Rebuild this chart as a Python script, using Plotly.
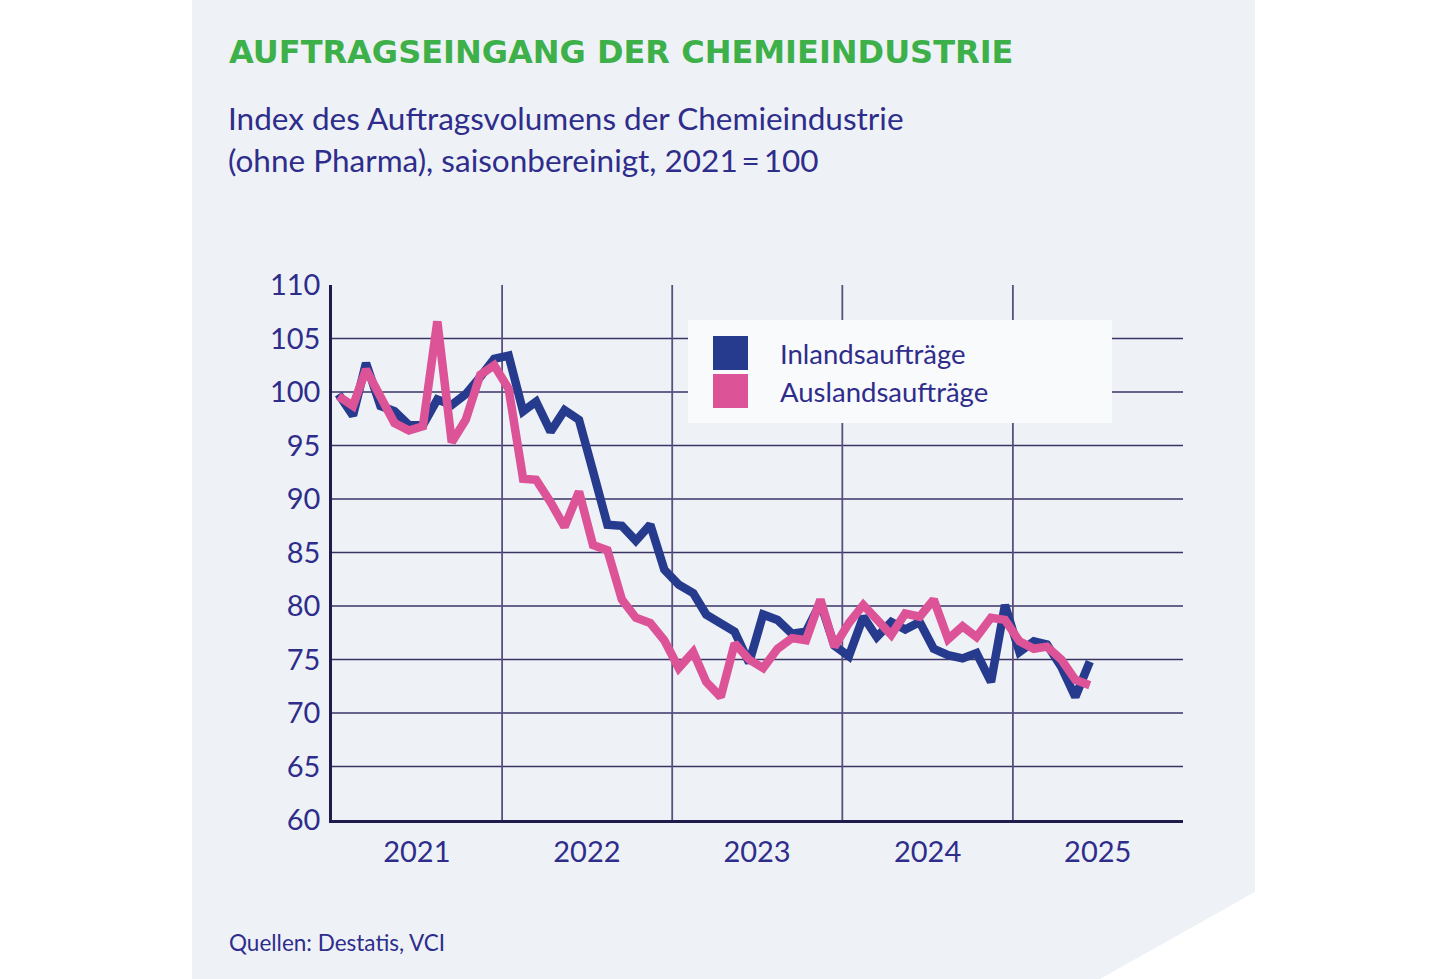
import plotly.graph_objects as go

# ---------------- data ----------------
months = [f"{y}-{m:02d}-15" for y in range(2021, 2026) for m in range(1, 13)][:54]

inland = [99.8, 97.8, 102.7, 98.7, 98.2, 96.9, 96.9, 99.3, 98.8, 99.8, 101.4, 103.1,
          103.4, 98.2, 99.1, 96.3, 98.3, 97.4, 92.6, 87.6, 87.5, 86.1, 87.6, 83.4,
          82.0, 81.2, 79.2, 78.4, 77.6, 74.7, 79.2, 78.7, 77.4, 77.6, 80.3, 76.3,
          75.3, 79.0, 77.1, 78.5, 77.8, 78.5, 76.0, 75.4, 75.1, 75.6, 72.9, 80.1,
          75.7, 76.7, 76.4, 74.3, 71.5, 74.8]

ausland = [99.6, 98.7, 102.1, 99.7, 97.1, 96.4, 96.8, 106.6, 95.3, 97.4, 101.6, 102.5,
           100.3, 91.9, 91.8, 89.7, 87.4, 90.7, 85.7, 85.2, 80.6, 78.9, 78.4, 76.8,
           74.2, 75.7, 72.9, 71.5, 76.5, 75.0, 74.2, 76.0, 77.0, 76.8, 80.6, 76.2,
           78.4, 80.1, 78.7, 77.3, 79.3, 79.0, 80.6, 76.9, 78.1, 77.1, 78.9, 78.7,
           76.7, 76.0, 76.2, 75.0, 73.1, 72.6]

series_names = ["Inlandsaufträge", "Auslandsaufträge"]
year_labels = ["2021", "2022", "2023", "2024", "2025"]
y_ticks = [60, 65, 70, 75, 80, 85, 90, 95, 100, 105, 110]

# ---------------- style ----------------
W, H = 1433, 979
L, R, T, B = 332, 1183, 285, 820
BLUE = "#263b8e"
PINK = "#dc5398"
NAVY = "#2f2d8c"
GREEN = "#3db049"
PANEL = "#eef2f6"
GRID = "#3a3366"
FONT = "Source Sans Pro, Lato, Open Sans, sans-serif"


def px(x):
    return (x - L) / (R - L)


def py(y):
    return (B - y) / (B - T)


fig = go.Figure()
fig.add_trace(go.Scatter(x=months, y=inland, mode="lines", name=series_names[0],
                         line=dict(color=BLUE, width=8.5), showlegend=False))
fig.add_trace(go.Scatter(x=months, y=ausland, mode="lines", name=series_names[1],
                         line=dict(color=PINK, width=8.5), showlegend=False))

shapes = []
# panel background with cut corner
shapes.append(dict(type="path", xref="paper", yref="paper", layer="below",
                   path=f"M {px(192)},{py(0)} L {px(1255)},{py(0)} L {px(1255)},{py(892)} "
                        f"L {px(1100)},{py(979)} L {px(192)},{py(979)} Z",
                   fillcolor=PANEL, line=dict(width=0)))
# horizontal gridlines
for v in y_ticks[1:-1]:
    shapes.append(dict(type="line", xref="paper", yref="y", x0=0, x1=1, y0=v, y1=v,
                       layer="between", line=dict(color=GRID, width=1.5)))
# vertical year gridlines
for yr in year_labels[1:]:
    shapes.append(dict(type="line", xref="x", yref="paper", x0=f"{yr}-01-01", x1=f"{yr}-01-01",
                       y0=0, y1=1, layer="between", line=dict(color="#5a4f7e", width=1.8)))
# legend box
shapes.append(dict(type="rect", xref="paper", yref="paper", layer="between",
                   x0=px(688), x1=px(1112), y0=py(423), y1=py(320),
                   fillcolor="#f9fafc", line=dict(width=0)))
shapes.append(dict(type="rect", xref="paper", yref="paper", layer="above",
                   x0=px(713), x1=px(748), y0=py(370), y1=py(336),
                   fillcolor=BLUE, line=dict(width=0)))
shapes.append(dict(type="rect", xref="paper", yref="paper", layer="above",
                   x0=px(713), x1=px(748), y0=py(408), y1=py(374),
                   fillcolor=PINK, line=dict(width=0)))

annotations = [
    dict(text="<b>AUFTRAGSEINGANG DER CHEMIEINDUSTRIE</b>", x=px(227), y=py(52),
         xref="paper", yref="paper", xanchor="left", yanchor="middle", showarrow=False,
         font=dict(family="DejaVu Sans, sans-serif", size=32, color=GREEN)),
    dict(text="Index des Auftragsvolumens der Chemieindustrie", x=px(226), y=py(118),
         xref="paper", yref="paper", xanchor="left", yanchor="middle", showarrow=False,
         font=dict(family=FONT, size=31.5, color=NAVY)),
    dict(text="(ohne Pharma), saisonbereinigt, 2021\u2009=\u2009100", x=px(226), y=py(160),
         xref="paper", yref="paper", xanchor="left", yanchor="middle", showarrow=False,
         font=dict(family=FONT, size=31.5, color=NAVY)),
    dict(text="Quellen: Destatis, VCI", x=px(227), y=py(942),
         xref="paper", yref="paper", xanchor="left", yanchor="middle", showarrow=False,
         font=dict(family=FONT, size=22.5, color=NAVY)),
    dict(text=series_names[0], x=px(778), y=py(353),
         xref="paper", yref="paper", xanchor="left", yanchor="middle", showarrow=False,
         font=dict(family=FONT, size=27.5, color=NAVY)),
    dict(text=series_names[1], x=px(778), y=py(391),
         xref="paper", yref="paper", xanchor="left", yanchor="middle", showarrow=False,
         font=dict(family=FONT, size=27.5, color=NAVY)),
]

fig.update_layout(
    width=W, height=H,
    margin=dict(l=L, r=W - R, t=T, b=H - B, pad=0),
    paper_bgcolor="white", plot_bgcolor="rgba(0,0,0,0)",
    shapes=shapes, annotations=annotations, showlegend=False,
    font=dict(family=FONT, color=NAVY),
    xaxis=dict(type="date", range=["2021-01-01", "2026-01-01"],
               tickvals=[f"{yr}-07-02" for yr in year_labels], ticktext=year_labels,
               showgrid=False, zeroline=False, showline=True, linecolor="#1f1c4d", linewidth=2.5,
               ticks="", tickfont=dict(size=29, color=NAVY, family=FONT), ticklabelstandoff=4),
    yaxis=dict(range=[60, 110], tickvals=y_ticks, showgrid=False, zeroline=False,
               showline=True, linecolor="#1f1c4d", linewidth=2.5, ticks="",
               tickfont=dict(size=29, color=NAVY, family=FONT), ticklabelstandoff=3),
)

fig.write_html("out.html")
